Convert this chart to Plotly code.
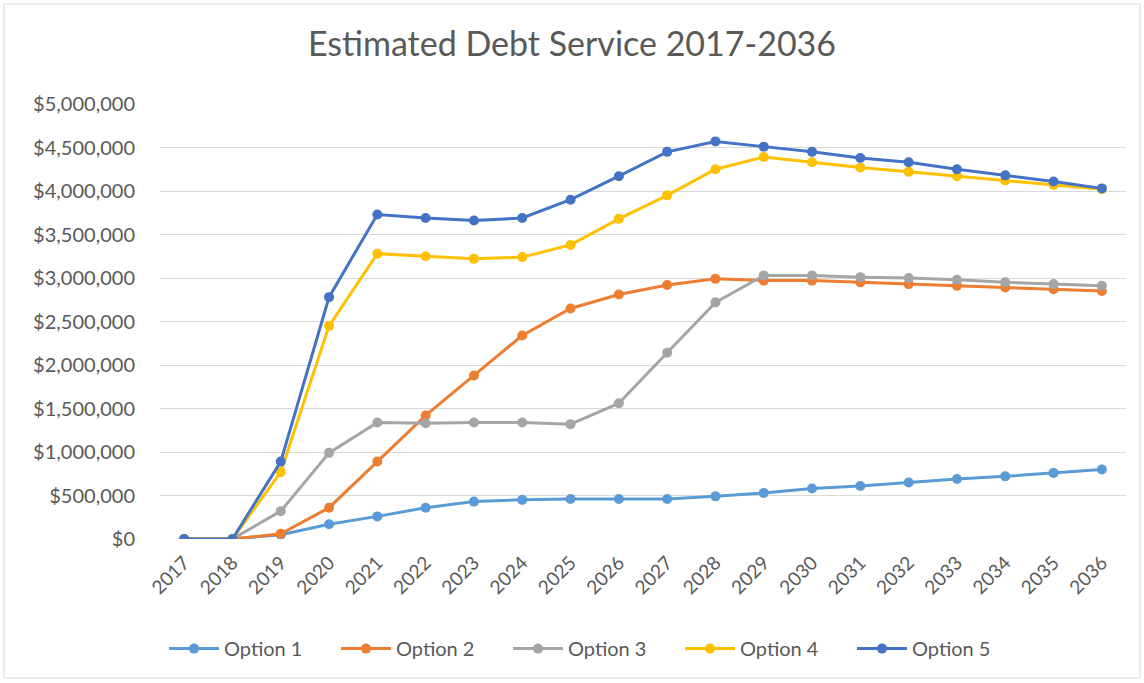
import plotly.graph_objects as go

years = [str(y) for y in range(2017, 2037)]
option1 = [0, 0, 50000, 170000, 260000, 360000, 430000, 450000, 460000, 460000,
           460000, 490000, 530000, 580000, 610000, 650000, 690000, 720000, 760000, 800000]
option2 = [0, 0, 60000, 360000, 890000, 1420000, 1880000, 2340000, 2650000, 2810000,
           2920000, 2990000, 2970000, 2970000, 2950000, 2930000, 2910000, 2890000, 2870000, 2850000]
option3 = [0, 0, 320000, 990000, 1340000, 1330000, 1340000, 1340000, 1320000, 1560000,
           2140000, 2720000, 3030000, 3030000, 3010000, 3000000, 2980000, 2950000, 2930000, 2910000]
option4 = [0, 0, 770000, 2450000, 3280000, 3250000, 3220000, 3240000, 3380000, 3680000,
           3950000, 4250000, 4390000, 4330000, 4270000, 4220000, 4170000, 4120000, 4070000, 4020000]
option5 = [0, 0, 890000, 2780000, 3730000, 3690000, 3660000, 3690000, 3900000, 4170000,
           4450000, 4570000, 4510000, 4450000, 4380000, 4330000, 4250000, 4180000, 4110000, 4030000]

series_names = ["Option 1", "Option 2", "Option 3", "Option 4", "Option 5"]
series_values = [option1, option2, option3, option4, option5]
colors = ["#5B9BD5", "#ED7D31", "#A5A5A5", "#FFC000", "#4472C4"]

tick_vals = list(range(0, 5000001, 500000))
tick_text = ["$" + format(v, ",") for v in tick_vals]

fig = go.Figure()
for name, vals, col in zip(series_names, series_values, colors):
    fig.add_trace(go.Scatter(
        x=years, y=vals, name=name, mode="lines+markers",
        line=dict(color=col, width=3),
        marker=dict(color=col, size=10),
    ))

font_family = "Lato, 'Open Sans', sans-serif"
fig.update_layout(
    width=1144, height=683,
    paper_bgcolor="white", plot_bgcolor="white",
    margin=dict(l=160, r=18, t=104, b=144),
    title=dict(text="Estimated Debt Service 2017-2036", x=0.5, xanchor="center",
               y=1 - 44 / 683, yanchor="middle",
               font=dict(family=font_family, size=34, color="#595959")),
    font=dict(family=font_family, size=19, color="#595959"),
    xaxis=dict(type="category", range=[-0.5, 19.5], tickangle=-45,
               showgrid=False, showline=False, ticks="", zeroline=False,
               ticklabelstandoff=8,
               tickfont=dict(size=19, color="#595959")),
    yaxis=dict(range=[0, 5000000], tickvals=tick_vals, ticktext=tick_text,
               showgrid=True, gridcolor="#D9D9D9", gridwidth=1,
               zeroline=False, showline=False, ticks="", ticklabelstandoff=24,
               tickfont=dict(size=20, color="#595959")),
    legend=dict(orientation="h", x=(164 - 160) / 966, xanchor="left",
                y=-0.252, yanchor="middle",
                font=dict(size=20, color="#595959"), itemwidth=50,
                entrywidth=107, entrywidthmode="pixels"),
    showlegend=True,
)

# outer chart border
fig.add_shape(type="rect", xref="paper", yref="paper",
              x0=-156 / 966, x1=1 + 14 / 966, y0=-139 / 434.7, y1=1 + 100 / 434.7,
              line=dict(color="#D9D9D9", width=1), fillcolor="rgba(0,0,0,0)", layer="below")

fig.write_html("out.html")
